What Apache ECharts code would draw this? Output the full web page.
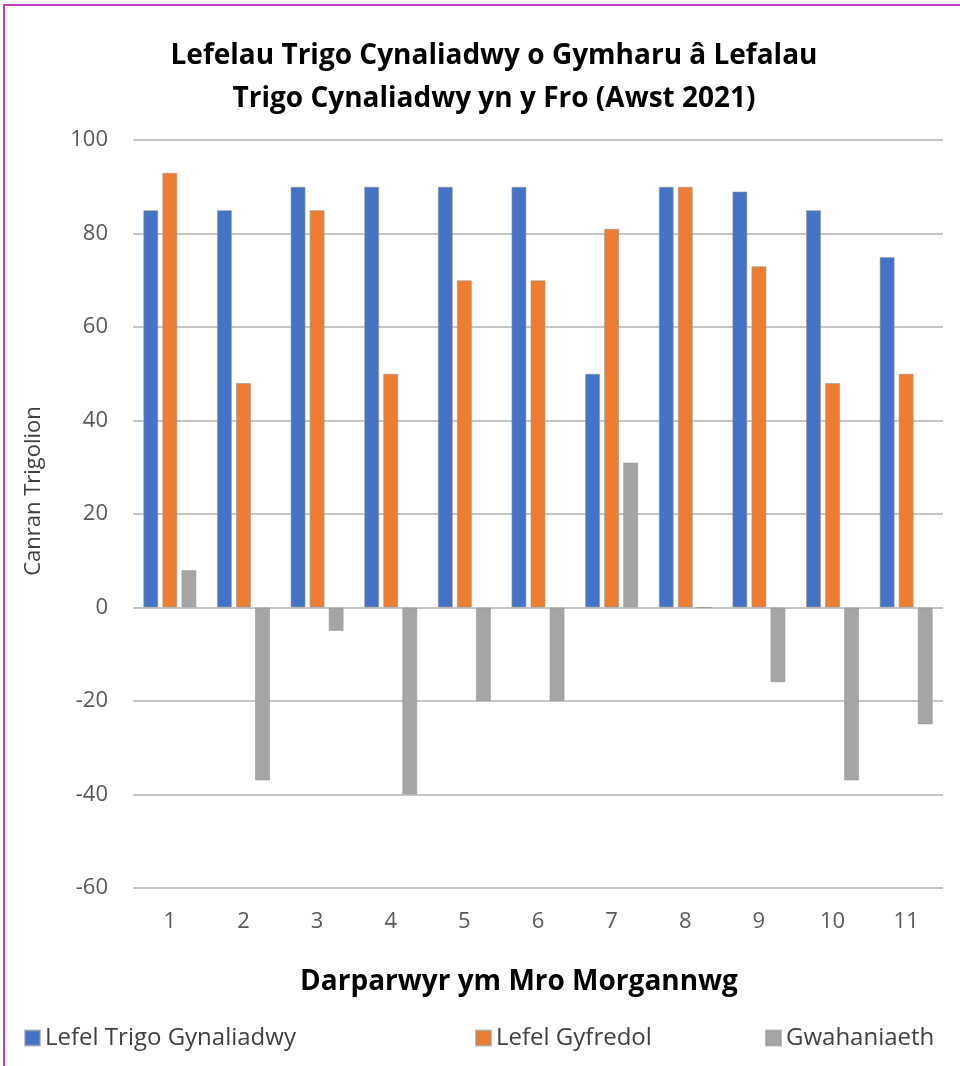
<!DOCTYPE html>
<html><head><meta charset="utf-8">
<script src="https://cdn.jsdelivr.net/npm/echarts@6/dist/echarts.min.js"></script>
<style>html,body{margin:0;padding:0;background:#fff;overflow:hidden}
#frame{position:absolute;left:3px;top:4px;width:980px;height:1100px;border:2px solid #c03cc0;box-sizing:border-box}
#c{position:absolute;left:0;top:0;width:960px;height:1066px}</style>
</head><body><div id="frame"></div><div id="c"></div>
<script>
const categories = ['1','2','3','4','5','6','7','8','9','10','11'];
const seriesNames = ['Lefel Trigo Gynaliadwy','Lefel Gyfredol','Gwahaniaeth'];
const trigo = [85,85,90,90,90,90,50,90,89,85,75];
const gyfredol = [93,48,85,50,70,70,81,90,73,48,50];
const gwahaniaeth = [8,-37,-5,-40,-20,-20,31,0,-16,-37,-25];
const yTicks = {min:-60,max:100,interval:20};
const colors = ['#4472c4','#ed7d31','#a5a5a5'];
const chart = echarts.init(document.getElementById('c'));
const font = '"Open Sans", "Noto Sans", sans-serif';
const legendBase = {orient:'horizontal',top:1021,icon:'rect',itemWidth:15,itemHeight:15,itemGap:8,
  textStyle:{fontFamily:font,fontSize:24,color:'#404040'}};
chart.setOption({
  animation:false,
  textStyle:{fontFamily:font},
  color:colors,
  title:{text:'Lefelau Trigo Cynaliadwy o Gymharu â Lefalau\nTrigo Cynaliadwy yn y Fro (Awst 2021)',
    left:489,textAlign:'center',top:30,
    textStyle:{fontFamily:font,fontWeight:'bold',fontSize:28,lineHeight:43,color:'#000'}},
  legend:[
    Object.assign({},legendBase,{left:19,data:[seriesNames[0]]}),
    Object.assign({},legendBase,{left:470,data:[seriesNames[1]]}),
    Object.assign({},legendBase,{left:760,data:[seriesNames[2]]})
  ],
  grid:{left:133,right:17,top:140,bottom:178,containLabel:false},
  xAxis:{type:'category',data:categories,
    axisLine:{show:false,onZero:false},axisTick:{show:false},
    axisLabel:{margin:23,fontSize:22,color:'#595959',fontFamily:font},
    name:'Darparwyr ym Mro Morgannwg',nameLocation:'middle',nameGap:80,
    nameTextStyle:{fontFamily:font,fontWeight:'bold',fontSize:28,color:'#000',padding:[0,38,0,0]}},
  yAxis:{type:'value',min:yTicks.min,max:yTicks.max,interval:yTicks.interval,
    axisLine:{show:false},axisTick:{show:false},
    axisLabel:{margin:25,fontSize:22,color:'#595959',fontFamily:font},
    splitLine:{lineStyle:{color:'#c6c6c6',width:2}},
    name:'Canran Trigolion',nameLocation:'middle',nameGap:88,
    nameTextStyle:{fontFamily:font,fontSize:22,color:'#404040',padding:[0,0,0,46]}},
  series:[
    {name:seriesNames[0],type:'bar',data:trigo,barWidth:15,barGap:'27%',
      itemStyle:{borderColor:'rgba(150,150,150,0.6)',borderWidth:1}},
    {name:seriesNames[1],type:'bar',data:gyfredol,barWidth:15,barGap:'27%',
      itemStyle:{borderColor:'rgba(150,150,150,0.6)',borderWidth:1}},
    {name:seriesNames[2],type:'bar',data:gwahaniaeth,barWidth:15,barGap:'27%',
      itemStyle:{borderColor:'rgba(150,150,150,0.6)',borderWidth:1}}
  ]
});
</script></body></html>
